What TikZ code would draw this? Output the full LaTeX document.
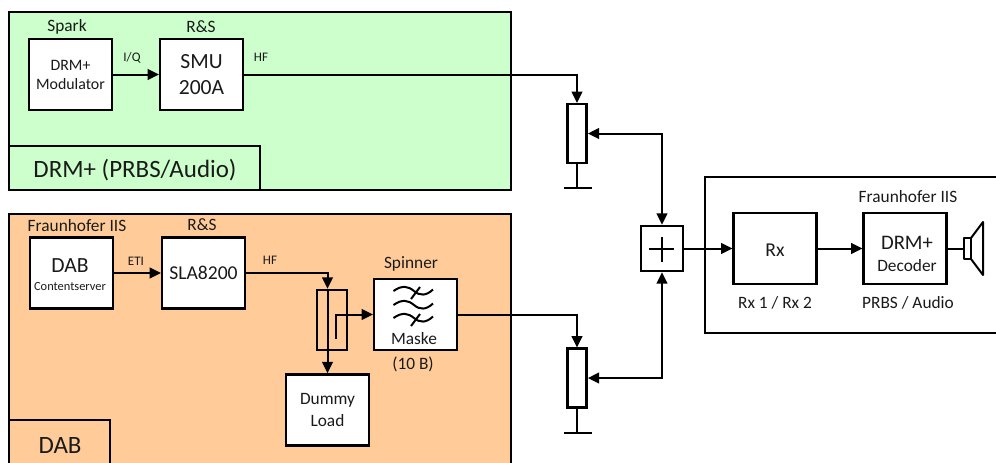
\documentclass[tikz,border=0pt]{standalone}
\usepackage{xcolor}
\usepackage{fontspec}
\setmainfont{Carlito}
\definecolor{cGreen}{HTML}{CCFFCC}
\definecolor{cOrange}{HTML}{FFCC99}
\definecolor{cLine}{HTML}{000000}
\definecolor{cText}{HTML}{1A1A1A}
\usetikzlibrary{positioning,arrows.meta,calc}
\newcommand{\fsTiny}{\fontsize{9.8}{12}\selectfont}
\newcommand{\fsCont}{\fontsize{9.3}{12}\selectfont}
\newcommand{\fsSmall}{\fontsize{11.9}{14.25}\selectfont}
\newcommand{\fsMain}{\fontsize{13}{16.5}\selectfont}
\newcommand{\fsMid}{\fontsize{14.7}{18}\selectfont}
\newcommand{\fsBig}{\fontsize{16.2}{19}\selectfont}
\newcommand{\fsHuge}{\fontsize{18.7}{22}\selectfont}
\tikzset{
  node-box/.style={draw=cLine,line width=1.8pt,fill=white,inner sep=0pt,
    minimum width=62pt,minimum height=53.25pt,align=center,text=cText},
  node-pot/.style={node-box,minimum width=14.5pt,minimum height=44pt},
  node-text/.style={inner sep=0pt,align=center,text=cText,font=\fsMain},
  panel/.style={draw=cLine,line width=1.5pt},
  arrow/.style={-{Triangle[length=8.5pt,width=8pt]},line width=1.5pt,draw=cLine},
  arrow-both/.style={{Triangle[length=8.5pt,width=8pt]}-{Triangle[length=8.5pt,width=8pt]},line width=1.5pt,draw=cLine},
  wire/.style={line width=1.5pt,draw=cLine},
  thinwire/.style={line width=1.2pt,draw=cLine},
}
\begin{document}
\begin{tikzpicture}[x=0.75pt,y=-0.75pt]
  \clip (0,0) rectangle (996,462);
  % panels
  \draw[panel,fill=cGreen] (9,12) rectangle (511,190);
  \draw[panel] (9,146) rectangle (260,190);
  \draw[panel,fill=cOrange] (9,214) rectangle (511,480);
  \draw[panel] (9,420) rectangle (110,480);
  \draw[panel,fill=white] (705,177) rectangle (1010,333);
  \node[node-text,font=\fsHuge] (lblDrm) at (135,170) {DRM+ (PRBS/Audio)};
  \node[node-text,font=\fsHuge] (lblDab) at (60,445) {DAB};
  % boxes
  \node[node-box,font=\fsSmall] (mod) at (70.5,74.5) {DRM+\\Modulator};
  \node[node-box,font=\fsBig] (smu) at (201.5,74.5) {SMU\\200A};
  \node[node-box] (dabsrv) at (71.5,273) {};
  \node[node-box,font=\fsMid] (sla) at (203.5,273) {SLA8200};
  \node[node-box,fill=none,minimum width=22.5pt,minimum height=45pt] (coupler) at (332,320) {};
  \node[node-box] (spinner) at (415.5,314.5) {};
  \node[node-box,font=\fsMain] (dummy) at (327.5,410) {Dummy\\Load};
  \node[node-pot] (potA) at (577,133.5) {};
  \node[node-pot] (potB) at (577,378) {};
  \node[node-box,minimum width=31.5pt,minimum height=33.75pt] (adder) at (662,248.5) {};
  \node[node-box,font=\fsMid,text depth=0pt,text height=12pt] (rx) at (775,248.5) {Rx};
  \node[node-box] (dec) at (905,248.5) {};
  % labels
  \node[node-text,font=\fsBig] (vDab) at (70,266) {DAB};
  \node[node-text,font=\fsCont] (vCont) at (70,287) {Contentserver};
  \node[node-text,font=\fontsize{15.5}{16.5}\selectfont] (vDrm) at (907,243) {DRM+};
  \node[node-text] (vDec) at (907,266) {Decoder};
  \node[node-text] (vSpark) at (67,27) {Spark};
  \node[node-text] (vRsA) at (201,27) {R\&S};
  \node[node-text] (vIis) at (77,226) {Fraunhofer IIS};
  \node[node-text] (vRsB) at (202,225) {R\&S};
  \node[node-text] (vSpin) at (411,264) {Spinner};
  \node[node-text] (vMask) at (414,339) {Maske};
  \node[node-text] (vTen) at (413,364) {(10 B)};
  \node[node-text] (vIisB) at (908,197) {Fraunhofer IIS};
  \node[node-text] (vRxs) at (775,303) {Rx 1 / Rx 2};
  \node[node-text] (vPrbs) at (908,303) {PRBS / Audio};
  \node[node-text,font=\fsTiny] (vIq) at (132,58) {I/Q};
  \node[node-text,font=\fsTiny] (vHfA) at (261,57) {HF};
  \node[node-text,font=\fsTiny] (vEti) at (136,261) {ETI};
  \node[node-text,font=\fsTiny] (vHfB) at (270,260) {HF};
  % connectors
  \draw[arrow] (mod.east) -- (smu.west);
  \draw[arrow] (smu.east) -| (potA.north);
  \draw[arrow] (dabsrv.east) -- (sla.west);
  \coordinate (hfIn) at (coupler.north -| dummy.north);
  \draw[arrow] (sla.east) -| (hfIn);
  \draw[arrow] (hfIn) -- (dummy.north);
  \coordinate (tap) at (336,339);
  \draw[arrow] (tap) |- (spinner.west);
  \draw[arrow] (spinner.east) -| (potB.north);
  \draw[arrow-both] (potA.east) -| (adder.north);
  \draw[arrow-both] (potB.east) -| (adder.south);
  \draw[arrow] (adder.east) -- (rx.west);
  \draw[arrow] (rx.east) -- (dec.west);
  % ground symbols
  \foreach \pot/\gy in {potA/188,potB/433}{
    \coordinate (gnd) at (577,\gy);
    \draw[wire] (\pot.south) -- (gnd);
    \draw[wire] ($(gnd)+(-13,0)$) -- ($(gnd)+(15,0)$);
  }
  % adder cross
  \draw[wire] (649,248.5) -- (674,248.5);
  \draw[wire] (662,237) -- (662,262);
  % filter curves
  \foreach \fy in {0,14,27}{
    \draw[wire,yshift=\fy*0.75*-1pt] (393.5,291) .. controls (402,285) and (408,286) .. (414,291)
      .. controls (420,296) and (426,296) .. (433,289.5);
  }
  \draw[wire] (411,299) -- (420,287);
  \draw[wire] (411,326) -- (420,314);
  % speaker
  \coordinate (spk) at (964,248.5);
  \draw[wire] (dec.east) -- (spk);
  \draw[thinwire,line join=round] (964,238) rectangle (971,259);
  \draw[wire,line join=round] (971,238) -- (983,222) -- (983,275) -- (971,259);
\end{tikzpicture}
\end{document}
